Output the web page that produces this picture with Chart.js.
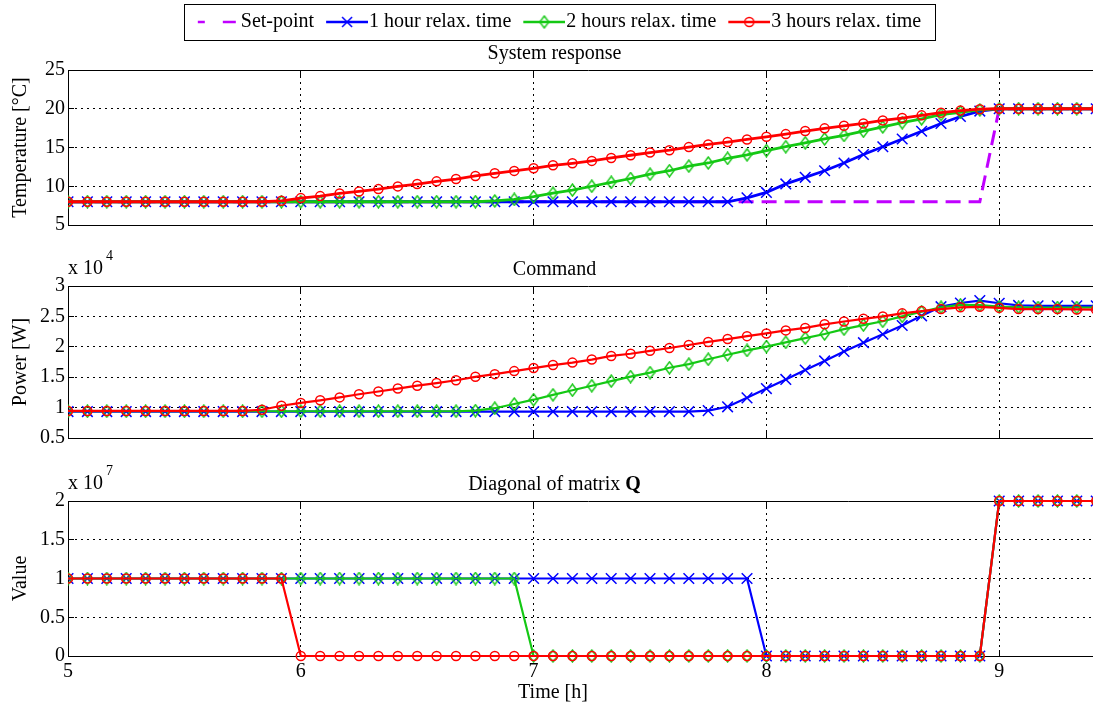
<!DOCTYPE html>
<html>
<head>
<meta charset="utf-8">
<script src="https://cdn.jsdelivr.net/npm/chart.js@4.4.1/dist/chart.umd.min.js"></script>
<style>
html, body { margin: 0; padding: 0; background: #fff; overflow: hidden; width: 1093px; height: 706px; }
canvas { position: absolute; left: 0; }
</style>
</head>
<body>
<canvas id="c1" width="1109" height="245" style="top:0px"></canvas>
<canvas id="c2" width="1109" height="208" style="top:245px"></canvas>
<canvas id="c3" width="1109" height="253" style="top:453px"></canvas>
<script>
// ---------- data ----------
const timeH = [4.9167, 5,
  5.0833, 5.1667, 5.25, 5.3333, 5.4167, 5.5, 5.5833, 5.6667, 5.75, 5.8333, 5.9167,
  6, 6.0833, 6.1667, 6.25, 6.3333, 6.4167, 6.5, 6.5833, 6.6667, 6.75, 6.8333, 6.9167,
  7, 7.0833, 7.1667, 7.25, 7.3333, 7.4167, 7.5, 7.5833, 7.6667, 7.75, 7.8333, 7.9167,
  8, 8.0833, 8.1667, 8.25, 8.3333, 8.4167, 8.5, 8.5833, 8.6667, 8.75, 8.8333, 8.9167,
  9, 9.0833, 9.1667, 9.25, 9.3333, 9.4167];

const xTicks = [5, 6, 7, 8, 9];
const seriesNames = ['Set-point', '1 hour relax. time', '2 hours relax. time', '3 hours relax. time'];
const panelTitles = ['System response', 'Command', 'Diagonal of matrix ', 'Q'];
const yTitles = ['Temperature [°C]', 'Power [W]', 'Value'];
const xTitle = 'Time [h]';

const tempTicks = [5, 10, 15, 20, 25];
const powerTicks = [5000, 10000, 15000, 20000, 25000, 30000];
const qTicks = [0, 5000000, 10000000, 15000000, 20000000];

const tempSetpoint = [8, 8,
  8, 8, 8, 8, 8, 8, 8, 8, 8, 8, 8,
  8, 8, 8, 8, 8, 8, 8, 8, 8, 8, 8, 8,
  8, 8, 8, 8, 8, 8, 8, 8, 8, 8, 8, 8,
  8, 8, 8, 8, 8, 8, 8, 8, 8, 8, 8, 8,
  20, 20, 20, 20, 20, 20];
const temp1h = [8, 8,
  8, 8, 8, 8, 8, 8, 8, 8, 8, 8, 8,
  8, 8, 8, 8, 8, 8, 8, 8, 8, 8, 8, 8,
  8, 8, 8, 8, 8, 8, 8, 8, 8, 8, 8, 8.5,
  9.2, 10.3, 11.15, 12.0, 13.0, 14.1, 15.1, 16.1, 17.1, 18.1, 19.0, 19.7,
  20, 20, 20, 20, 20, 20];
const temp2h = [8, 8,
  8, 8, 8, 8, 8, 8, 8, 8, 8, 8, 8,
  8, 8, 8, 8, 8, 8, 8, 8, 8, 8, 8.1, 8.3,
  8.65, 9.1, 9.5, 10.0, 10.5, 11.0, 11.55, 12.0, 12.6, 13.0, 13.6, 14.05,
  14.6, 15.1, 15.6, 16.1, 16.55, 17.1, 17.65, 18.2, 18.7, 19.25, 19.55, 19.85,
  20, 20, 20, 20, 20, 20];
const temp3h = [8, 8,
  8, 8, 8, 8, 8, 8, 8, 8, 8, 8.0, 8.12,
  8.47, 8.73, 9.07, 9.33, 9.63, 9.98, 10.28, 10.63, 10.93, 11.33, 11.67, 11.98,
  12.32, 12.7, 12.96, 13.27, 13.65, 14.0, 14.35, 14.65, 15.05, 15.4, 15.7, 16.04,
  16.38, 16.73, 17.12, 17.47, 17.8, 18.1, 18.5, 18.8, 19.15, 19.5, 19.76, 19.94,
  20, 20, 20, 20, 20, 20];

const power1h = [9350, 9350,
  9350, 9350, 9350, 9350, 9350, 9350, 9350, 9350, 9350, 9350, 9350,
  9350, 9350, 9350, 9350, 9350, 9350, 9350, 9350, 9350, 9350, 9350, 9350,
  9350, 9350, 9350, 9350, 9350, 9350, 9350, 9350, 9350, 9500, 10130, 11600,
  13130, 14630, 16180, 17680, 19230, 20680, 22070, 23500, 25100, 26600, 27200, 27600,
  27160, 26800, 26730, 26730, 26730, 26730];
const power2h = [9400, 9400,
  9400, 9400, 9400, 9400, 9400, 9400, 9400, 9400, 9400, 9400, 9400,
  9400, 9400, 9400, 9400, 9400, 9400, 9400, 9400, 9400, 9500, 9900, 10600,
  11300, 12100, 12860, 13600, 14360, 15100, 15750, 16550, 17140, 17950, 18700, 19400,
  20040, 20730, 21430, 22100, 22900, 23570, 24200, 25000, 25770, 26500, 26900, 26840,
  26600, 26500, 26460, 26460, 26460, 26460];
const power3h = [9450, 9450,
  9450, 9450, 9450, 9450, 9450, 9450, 9450, 9450, 9450, 9650, 10300,
  10770, 11200, 11680, 12200, 12650, 13130, 13600, 14040, 14500, 15060, 15500, 16000,
  16500, 17000, 17400, 17900, 18500, 18860, 19340, 19800, 20300, 20800, 21270, 21750,
  22200, 22700, 23100, 23700, 24160, 24600, 25000, 25500, 25870, 26200, 26500, 26570,
  26400, 26200, 26200, 26200, 26140, 26100];

const q1h = [1e7, 1e7,
  1e7, 1e7, 1e7, 1e7, 1e7, 1e7, 1e7, 1e7, 1e7, 1e7, 1e7,
  1e7, 1e7, 1e7, 1e7, 1e7, 1e7, 1e7, 1e7, 1e7, 1e7, 1e7, 1e7,
  1e7, 1e7, 1e7, 1e7, 1e7, 1e7, 1e7, 1e7, 1e7, 1e7, 1e7, 1e7,
  0, 0, 0, 0, 0, 0, 0, 0, 0, 0, 0, 0,
  2e7, 2e7, 2e7, 2e7, 2e7, 2e7];
const q2h = [1e7, 1e7,
  1e7, 1e7, 1e7, 1e7, 1e7, 1e7, 1e7, 1e7, 1e7, 1e7, 1e7,
  1e7, 1e7, 1e7, 1e7, 1e7, 1e7, 1e7, 1e7, 1e7, 1e7, 1e7, 1e7,
  0, 0, 0, 0, 0, 0, 0, 0, 0, 0, 0, 0,
  0, 0, 0, 0, 0, 0, 0, 0, 0, 0, 0, 0,
  2e7, 2e7, 2e7, 2e7, 2e7, 2e7];
const q3h = [1e7, 1e7,
  1e7, 1e7, 1e7, 1e7, 1e7, 1e7, 1e7, 1e7, 1e7, 1e7, 1e7,
  0, 0, 0, 0, 0, 0, 0, 0, 0, 0, 0, 0,
  0, 0, 0, 0, 0, 0, 0, 0, 0, 0, 0, 0,
  0, 0, 0, 0, 0, 0, 0, 0, 0, 0, 0, 0,
  2e7, 2e7, 2e7, 2e7, 2e7, 2e7];

// ---------- styling ----------
const FONT = 'Liberation Serif';
const C_SET = '#C000FF', C_1H = '#0000FF', C_2H = '#14C814', C_3H = '#FF0000';
const X_MIN = 5, X_MAX = 9.4716;

function diamondImg(color) {
  const c = document.createElement('canvas');
  c.width = 11; c.height = 14;
  const g = c.getContext('2d');
  g.strokeStyle = color; g.lineWidth = 1.4;
  g.beginPath(); g.moveTo(5.5, 1); g.lineTo(10, 7); g.lineTo(5.5, 13); g.lineTo(1, 7); g.closePath(); g.stroke();
  return c;
}
const DIAMOND = diamondImg(C_2H);

function sampleImg(kind) {
  const c = document.createElement('canvas');
  c.width = 51; c.height = 20;
  const g = c.getContext('2d');
  const colors = [C_SET, C_1H, C_2H, C_3H];
  g.strokeStyle = colors[kind];
  g.lineWidth = 2.5;
  if (kind === 0) g.setLineDash([7, 18, 13, 20]);
  g.beginPath(); g.moveTo(9, 10); g.lineTo(51, 10); g.stroke();
  g.setLineDash([]);
  g.lineWidth = 1.5;
  if (kind === 1) {
    g.beginPath(); g.moveTo(25, 5); g.lineTo(35, 15); g.moveTo(35, 5); g.lineTo(25, 15); g.stroke();
  } else if (kind === 2) {
    g.drawImage(DIAMOND, 30 - 5.5, 10 - 7);
  } else if (kind === 3) {
    g.beginPath(); g.arc(30, 10, 4.5, 0, Math.PI * 2); g.stroke();
  }
  return c;
}
const legendImgs = [0, 1, 2, 3].map(sampleImg);

function lineDS(label, ys, color, width, opts) {
  return Object.assign({
    label,
    data: timeH.map((t, i) => ({ x: t, y: ys[i] })),
    borderColor: color, backgroundColor: color, borderWidth: width, tension: 0,
    pointBackgroundColor: 'rgba(0,0,0,0)', pointBorderColor: color, pointBorderWidth: 1.5,
    clip: { left: 0, top: false, right: false, bottom: false }
  }, opts);
}

function markerSets(names, arrs, width) {
  return [
    lineDS(names[0], arrs[0], C_1H, width, { pointStyle: 'crossRot', pointRadius: 7.5, order: 3 }),
    lineDS(names[1], arrs[1], C_2H, width, { pointStyle: DIAMOND, pointRadius: 5, order: 2 }),
    lineDS(names[2], arrs[2], C_3H, width, { pointStyle: 'circle', pointRadius: 4.5, order: 1 })
  ];
}

const framePlugin = {
  id: 'frame',
  beforeDatasetsDraw(chart) {
    const { ctx, chartArea: a, scales: { x, y } } = chart;
    const al = p => Math.round(p - 0.5) + 0.5;
    ctx.save();
    ctx.strokeStyle = '#000'; ctx.lineWidth = 1;
    ctx.beginPath();
    const top = al(a.top);
    ctx.moveTo(a.left, top); ctx.lineTo(a.right, top);
    xTicks.forEach(v => {
      const px = al(x.getPixelForValue(v));
      ctx.moveTo(px, a.bottom); ctx.lineTo(px, a.bottom - 6);
      ctx.moveTo(px, a.top); ctx.lineTo(px, a.top + 6);
    });
    y.ticks.forEach(t => {
      const py = al(y.getPixelForValue(t.value));
      ctx.moveTo(a.left, py); ctx.lineTo(a.left + 6, py);
    });
    ctx.stroke();
    ctx.restore();
  }
};

const legendBoxPlugin = {
  id: 'legendBox',
  afterLayout(chart) {
    // the reference legend sits a few pixels right of the title centre
    if (chart.legend) { chart.legend.left += 5; chart.legend.right += 5; }
  },
  afterDraw(chart) {
    const hb = chart.legend && chart.legend.legendHitBoxes;
    if (!hb || !hb.length) return;
    const last = hb[hb.length - 1];
    const l = Math.round(hb[0].left - 14) + 0.5;
    const r = Math.round(last.left + last.width + 14) + 0.5;
    const ctx = chart.ctx;
    ctx.save();
    ctx.strokeStyle = '#000'; ctx.lineWidth = 1;
    ctx.strokeRect(l, 4.5, r - l, 36);
    ctx.restore();
  }
};

function expPlugin(exp) {
  return {
    id: 'exp' + exp,
    afterDraw(chart) {
      const { ctx, chartArea: a } = chart;
      ctx.save();
      ctx.fillStyle = '#000'; ctx.textAlign = 'left'; ctx.textBaseline = 'middle';
      ctx.font = `20px "${FONT}"`;
      const base = 'x 10';
      ctx.fillText(base, a.left, a.top - 17);
      const w = ctx.measureText(base).width;
      ctx.font = `14px "${FONT}"`;
      ctx.fillText(String(exp), a.left + w + 3, a.top - 30);
      ctx.restore();
    }
  };
}

const qTitlePlugin = {
  id: 'qTitle',
  afterDraw(chart) {
    const ctx = chart.ctx;
    ctx.save();
    ctx.fillStyle = '#000'; ctx.textAlign = 'left'; ctx.textBaseline = 'middle';
    const reg = `20px "${FONT}"`, bold = `bold 20px "${FONT}"`;
    ctx.font = reg; const w1 = ctx.measureText(panelTitles[2]).width;
    ctx.font = bold; const w2 = ctx.measureText(panelTitles[3]).width;
    const x0 = chart.width / 2 - (w1 + w2) / 2;
    ctx.font = reg; ctx.fillText(panelTitles[2], x0, 32);
    ctx.font = bold; ctx.fillText(panelTitles[3], x0 + w1, 32);
    // x axis title
    ctx.font = reg; ctx.textAlign = 'center';
    ctx.fillText(xTitle, chart.width / 2 - 1.5, 240);
    ctx.restore();
  }
};

function makeOptions(cfg) {
  const tickFont = { family: FONT, size: 20 };
  return {
    responsive: false, animation: false, events: [],
    layout: { padding: cfg.pad, autoPadding: false },
    plugins: {
      legend: cfg.legend || { display: false },
      title: cfg.title || { display: false },
      tooltip: { enabled: false }
    },
    scales: {
      x: {
        type: 'linear', min: X_MIN, max: X_MAX,
        afterBuildTicks: s => { s.ticks = xTicks.map(v => ({ value: v })); },
        ticks: { display: cfg.showX, font: tickFont, color: '#000', padding: 4, maxRotation: 0, autoSkip: false },
        grid: { color: '#000', lineWidth: 1, drawTicks: false },
        border: { display: true, color: '#000', width: 1, dash: [2, 4] }
      },
      y: {
        type: 'linear', min: cfg.yMin, max: cfg.yMax,
        afterBuildTicks: s => { s.ticks = cfg.yTicks.map(v => ({ value: v })); },
        afterFit: s => { s.width = 68; },
        ticks: { font: tickFont, color: '#000', padding: 3, autoSkip: false, callback: cfg.yFmt },
        grid: { color: '#000', lineWidth: 1, drawTicks: false },
        border: { display: true, color: '#000', width: 1, dash: [2, 4] },
        title: { display: true, text: cfg.yTitle, font: { family: FONT, size: 20 }, color: '#000', padding: { top: 9, bottom: 0 } }
      }
    }
  };
}

// ---------- panel 1: system response ----------
new Chart(document.getElementById('c1'), {
  type: 'line',
  data: {
    datasets: [
      lineDS(seriesNames[0], tempSetpoint, C_SET, 3, { borderDash: [15, 8], pointRadius: 0, order: 4 }),
      ...markerSets(seriesNames.slice(1), [temp1h, temp2h, temp3h], 2.8)
    ]
  },
  options: makeOptions({
    pad: { top: 0, bottom: 20, left: 0, right: 0 },
    showX: false, yMin: 5, yMax: 25, yTicks: tempTicks, yTitle: yTitles[0],
    yFmt: v => String(v),
    legend: {
      display: true, position: 'top', align: 'center', weight: 3000,
      labels: {
        font: { family: FONT, size: 20 }, color: '#000', padding: 12,
        usePointStyle: true, pointStyleWidth: 33,
        generateLabels: () => seriesNames.map((name, i) => ({
          text: name, pointStyle: legendImgs[i], fillStyle: 'rgba(0,0,0,0)',
          strokeStyle: 'rgba(0,0,0,0)', lineWidth: 0, hidden: false, datasetIndex: i, fontColor: '#000'
        }))
      }
    },
    title: { display: true, text: panelTitles[0], font: { family: FONT, size: 20, weight: 'normal' }, color: '#000', padding: { top: 0, bottom: 4 } }
  }),
  plugins: [framePlugin, legendBoxPlugin]
});

// ---------- panel 2: command ----------
new Chart(document.getElementById('c2'), {
  type: 'line',
  data: { datasets: markerSets(seriesNames.slice(1), [power1h, power2h, power3h], 2.2) },
  options: makeOptions({
    pad: { top: 0, bottom: 12, left: 0, right: 0 },
    showX: false, yMin: 5000, yMax: 30000, yTicks: powerTicks, yTitle: yTitles[1],
    yFmt: v => String(v / 1e4),
    title: { display: true, text: panelTitles[1], font: { family: FONT, size: 20, weight: 'normal' }, color: '#000', padding: { top: 13, bottom: 4 } }
  }),
  plugins: [framePlugin, expPlugin(4)]
});

// ---------- panel 3: diagonal of matrix Q ----------
new Chart(document.getElementById('c3'), {
  type: 'line',
  data: { datasets: markerSets(seriesNames.slice(1), [q1h, q2h, q3h], 2.2) },
  options: makeOptions({
    pad: { top: 48, bottom: 18, left: 0, right: 0 },
    showX: true, yMin: 0, yMax: 20000000, yTicks: qTicks, yTitle: yTitles[2],
    yFmt: v => String(v / 1e7)
  }),
  plugins: [framePlugin, expPlugin(7), qTitlePlugin]
});
</script>
</body>
</html>
